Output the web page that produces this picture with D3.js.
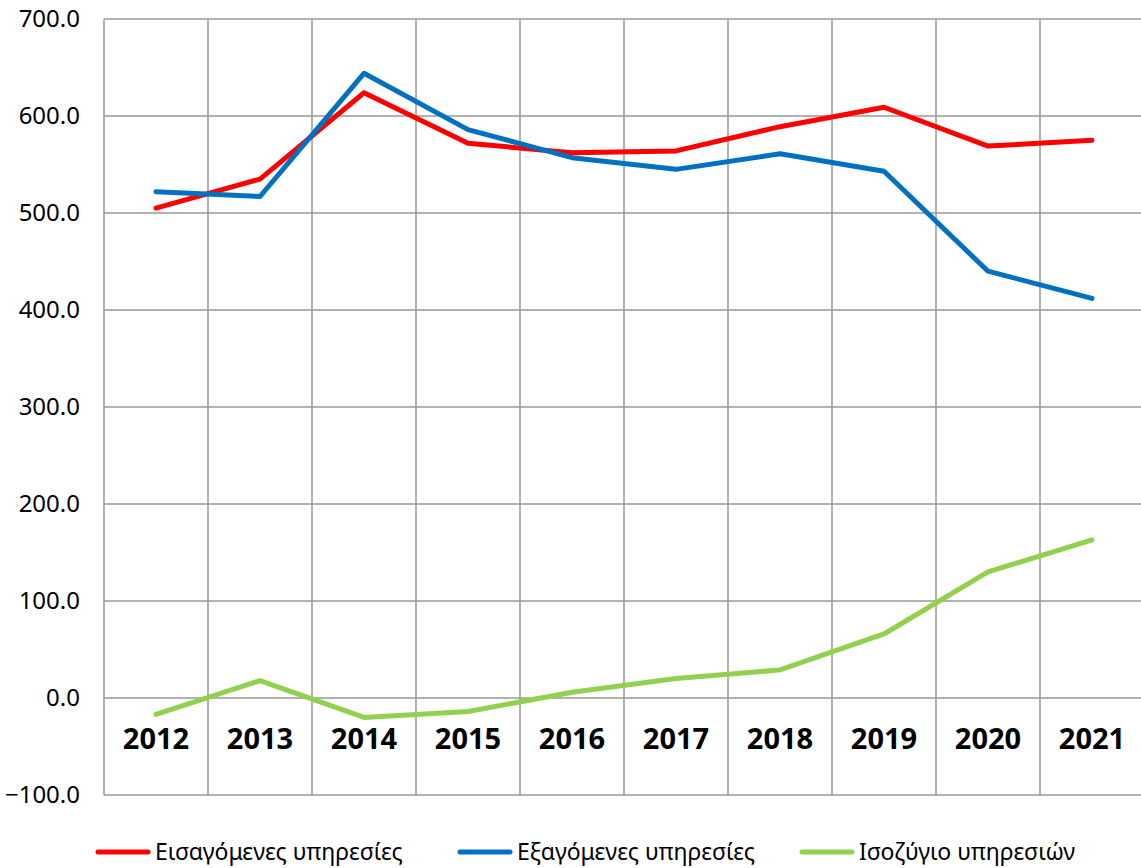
<!DOCTYPE html>
<html>
<head>
<meta charset="utf-8">
<script src="https://cdnjs.cloudflare.com/ajax/libs/d3/7.8.5/d3.min.js"></script>
<style>
  body { margin: 0; background: #fff; }
  text { font-family: "Noto Sans", sans-serif; fill: #000; }
</style>
</head>
<body>
<div id="chart"></div>
<script>
// data
var years = ["2012", "2013", "2014", "2015", "2016", "2017", "2018", "2019", "2020", "2021"];
var imports = [505, 535, 624, 572, 562, 564, 589, 609, 569, 575];
var exports = [522, 517, 644, 586, 557, 545, 561, 543, 440, 412];
var balance = [-17, 18, -20, -14, 6, 20, 29, 66, 130, 163];
var yTicks = [-100, 0, 100, 200, 300, 400, 500, 600, 700];

var seriesNames = ["Εισαγόμενες υπηρεσίες", "Εξαγόμενες υπηρεσίες", "Ισοζύγιο υπηρεσιών"];
var seriesColors = ["#ff0000", "#0070c0", "#92d050"];

width = 1141;
height = 868;

plotLeft = 104;
plotRight = 1144;
plotTop = 19;
plotBottom = 795;

xScale = d3.scaleBand().domain(years).range([plotLeft, plotRight]);
yScale = d3.scaleLinear().domain([-100, 700]).range([plotBottom, plotTop]);

svg = d3.select("#chart").append("svg")
    .attr("width", width)
    .attr("height", height);

// grid
svg.append("g")
    .selectAll("line")
    .data(yTicks).enter()
    .append("line")
    .attr("x1", plotLeft)
    .attr("x2", plotRight)
    .attr("y1", d => yScale(d))
    .attr("y2", d => yScale(d))
    .style("stroke", "#999")
    .style("stroke-width", 1.5);

svg.append("g")
    .selectAll("line")
    .data(years.concat(["end"])).enter()
    .append("line")
    .attr("x1", (d, i) => plotLeft + i * xScale.bandwidth())
    .attr("x2", (d, i) => plotLeft + i * xScale.bandwidth())
    .attr("y1", plotTop)
    .attr("y2", plotBottom)
    .style("stroke", "#999")
    .style("stroke-width", 1.5);

// y axis labels
svg.append("g")
    .selectAll("text")
    .data(yTicks).enter()
    .append("text")
    .attr("x", 80)
    .attr("y", d => yScale(d))
    .attr("dy", "0.35em")
    .style("text-anchor", "end")
    .style("font-size", "24px")
    .text(d => d3.format(".1f")(d));

// year labels, below the zero line
svg.append("g")
    .selectAll("text")
    .data(years).enter()
    .append("text")
    .attr("x", d => xScale(d) + xScale.bandwidth() / 2)
    .attr("y", yScale(0) + 51)
    .style("text-anchor", "middle")
    .style("font-size", "29px")
    .style("font-weight", "bold")
    .text(d => d);

// lines
line = d3.line()
    .x((d, i) => xScale(years[i]) + xScale.bandwidth() / 2)
    .y(d => yScale(d));

var allSeries = [imports, exports, balance];

svg.append("g")
    .selectAll("path")
    .data(allSeries).enter()
    .append("path")
    .attr("d", d => line(d))
    .style("fill", "none")
    .style("stroke", (d, i) => seriesColors[i])
    .style("stroke-width", 5)
    .style("stroke-linejoin", "round")
    .style("stroke-linecap", "round");

// legend
var legendX = [96, 458, 800];
legend = svg.append("g")
    .selectAll("g")
    .data(seriesNames).enter()
    .append("g")
    .attr("transform", (d, i) => `translate(${legendX[i]}, 852)`);

legend.append("line")
    .attr("x1", 2)
    .attr("x2", 52)
    .style("stroke", (d, i) => seriesColors[i])
    .style("stroke-width", 5)
    .style("stroke-linecap", "round");

legend.append("text")
    .attr("x", 59)
    .attr("dy", "0.33em")
    .style("font-size", "23px")
    .text(d => d);
</script>
</body>
</html>
